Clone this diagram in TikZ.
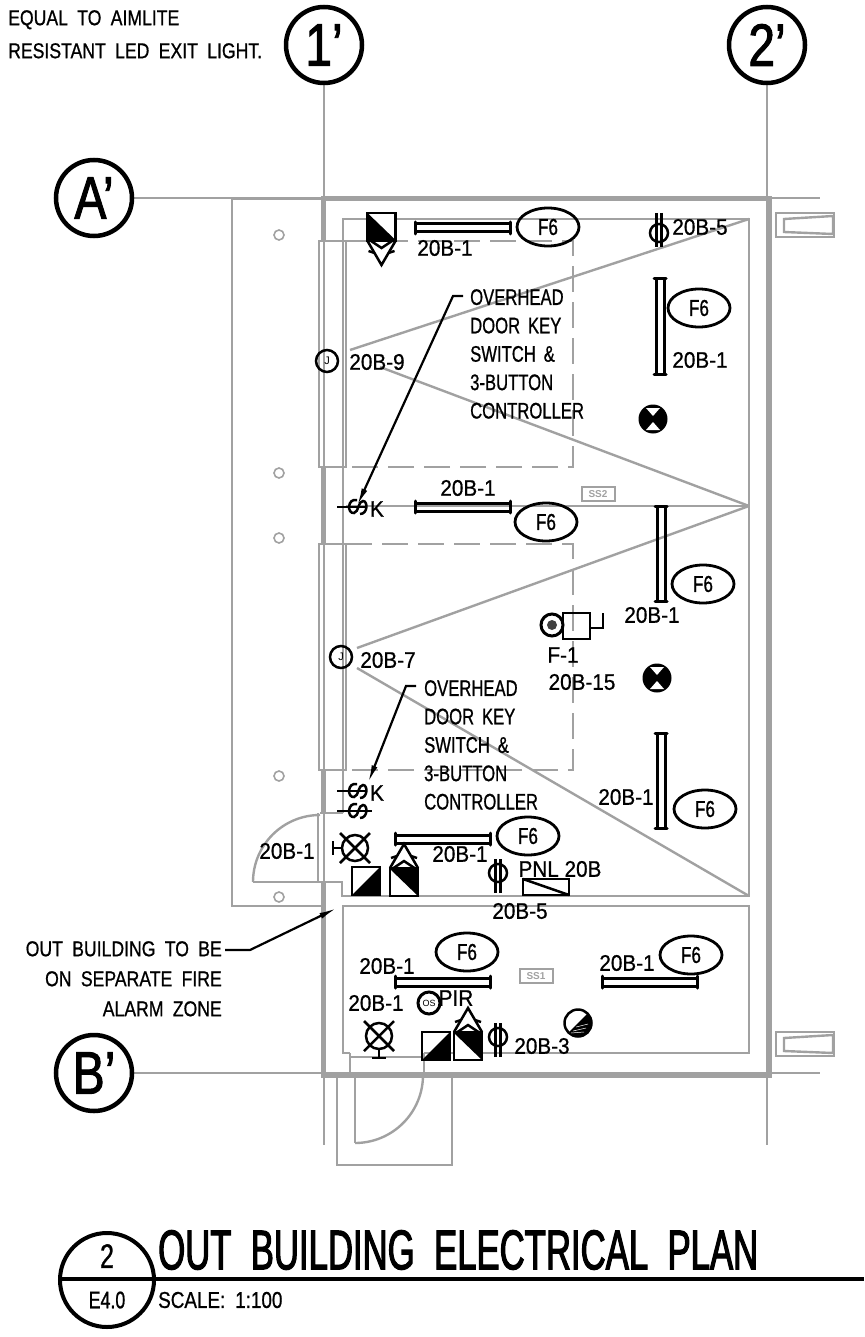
\documentclass[tikz,border=0pt]{standalone}
\usepackage{fontspec}
\usetikzlibrary{arrows.meta,shapes.geometric}
\setmainfont{Liberation Sans}
\newfontfamily\cktfont[FakeStretch=0.92,FakeBold=0.8]{Liberation Sans}
\newfontfamily\notefont[FakeStretch=0.74,FakeBold=0.8,WordSpace=1.7]{Liberation Sans}
\newfontfamily\widefont[FakeStretch=0.82,FakeBold=0.8,WordSpace=1.9]{Liberation Sans}
\newfontfamily\titlefont[FakeStretch=0.62,FakeBold=1.9,WordSpace=2.0]{Liberation Sans}
\newfontfamily\bubblefont[FakeStretch=0.8,FakeBold=1.6]{Liberation Sans}
\definecolor{wallgray}{gray}{0.63}
\tikzset{
    wall/.style={wallgray, line width=5pt},
    partition/.style={wallgray, line width=2.4pt},
    gridline/.style={wallgray, line width=1.6pt},
    symb/.style={black, line width=2.5pt},
    leader/.style={black, line width=2.2pt, -{Latex[length=18pt,width=6pt]}},
    ckt/.style={font=\cktfont\fontsize{22.5}{22.5}\selectfont, inner sep=0pt},
    note/.style={font=\notefont\fontsize{22.5}{28.4}\selectfont, inner sep=0pt},
    tag/.style={draw, ellipse, line width=2.8pt, minimum width=62pt, minimum height=38pt, inner sep=0pt, font=\notefont\fontsize{23}{23}\selectfont},
    bubble/.style={draw, circle, line width=4.5pt, minimum size=76pt, inner sep=0pt, font=\bubblefont\fontsize{60}{60}\selectfont},
    bolt/.style={wallgray, line width=1.6pt},
    pics/lamp/.style={code={
        \draw[line width=3pt] (0,-4) -- (95,-4) (0,4) -- (95,4);
        \draw[line width=3pt, line cap=round] (0,-6) -- (0,6) (95,-6) -- (95,6);
    }},
    pics/exitbox/.style={code={
        \draw[symb, fill=white] (-14,-14) rectangle (14,14);
        \fill (-14,-14) -- (14,13) -- (-14,13) -- cycle;
        \draw[symb] (-14,14) -- (0,38) -- (14,14);
        \draw[symb] (-12,13) -- (0,21) -- (12,13);
        \draw[symb] (-13,24) -- (-7,26) (13,24) -- (7,26);
    }},
    pics/halfbox/.style={code={
        \draw[symb] (-14,-14) rectangle (14,14);
        \fill (-14,14) -- (14,-14) -- (14,14) -- cycle;
    }},
    pics/recep/.style={code={
        \draw[symb] (0,0) circle (9);
        \draw[symb] (-2.5,-20) -- (-2.5,14) (2.5,-20) -- (2.5,14);
    }},
    pics/keysw/.style={code={
        \draw[symb] (0,-7) .. controls (-10,-9) and (-10,7) .. (-3,6) .. controls (2,5) and (1,-6) .. (6,-6) .. controls (11,-6) and (11,7) .. (3,7);
    }},
    pics/darklight/.style={code={
        \fill (0,0) circle (14.5);
        \fill[white] (0,-3) -- (-7,-11) -- (7,-11) -- cycle;
        \fill[white] (0,3) -- (-7,11) -- (7,11) -- cycle;
    }},
    pics/halflight/.style={code={
        \draw[symb] (0,0) circle (13.5);
        \begin{scope}
            \clip (0,0) circle (13.5);
            \fill (-15,15) -- (15,-15) -- (15,15) -- cycle;
        \end{scope}
        \draw[white, line width=0.5pt] (-5,8) -- (8,5) (-2,4) -- (10,1) (-7,10) -- (6,9);
    }},
    pics/crosslight/.style={code={
        \draw[symb] (0,0) circle (13);
        \draw[symb] (-15,-15) -- (15,15) (-15,15) -- (15,-15);
        \draw[symb] (-13,0) -- (-22,0) (-22,-7) -- (-22,7);
    }},
}
\begin{document}
\begin{tikzpicture}[x=1pt,y=-1pt]
    \useasboundingbox (0,0) rectangle (864,1337);
    % Grid lines
    \draw[gridline] (324,82) -- (324,1145);
    \draw[gridline] (767,82) -- (767,1145);
    \draw[gridline] (132,198) -- (820,198);
    \draw[gridline] (132,1073) -- (820,1073);
    % Outer walls
    \draw[wall] (323,241) -- (323,199) -- (769,199) -- (769,1075) -- (323,1075) -- (323,882);
    \draw[wall] (323,467) -- (323,544);
    \draw[wall] (323,770) -- (323,813);
    % Annex outline
    \draw[partition] (323,199) -- (232,199) -- (232,906) -- (323,906);
    % Annex bolts
    \draw[bolt] (279,235) circle (5);
    \draw[bolt] (279,473) circle (5);
    \draw[bolt] (279,538) circle (5);
    \draw[bolt] (279,776) circle (5);
    \draw[bolt] (279,897) circle (5);
    % Upper room
    \draw[partition] (343,813) -- (343,219) -- (749,219) -- (749,896) -- (342,896) -- (342,882) -- (253,882);
    \draw[partition] (320,813) -- (343,813);
    \draw[partition] (318,813) -- (318,882);
    \draw[partition] (253,882) arc[start angle=180, end angle=270, radius=67];
    % Lower room
    \draw[partition] (350,1053) -- (343,1053) -- (343,906) -- (749,906) -- (749,1053) -- (424,1053);
    \draw[partition] (350,1057) -- (424,1057);
    \draw[partition] (350,1053) -- (350,1075);
    \draw[partition] (424,1053) -- (424,1075);
    % Overhead doors
    \draw[partition] (319,241) rectangle (346,467);
    \draw[partition] (319,544) rectangle (346,770);
    \draw[partition, dash pattern=on 26pt off 10pt] (346,241) -- (573,241) -- (573,467) -- (346,467);
    \draw[partition, dash pattern=on 26pt off 10pt] (346,544) -- (573,544) -- (573,770) -- (346,770);
    % Man door
    \draw[partition] (337,1075) -- (337,1165) -- (452,1165) -- (452,1075);
    \draw[partition] (355,1075) -- (355,1143);
    \draw[partition] (355,1143) arc[start angle=90, end angle=0, radius=68];
    % Wiring runs
    \draw[partition] (350,350) -- (749,219);
    \draw[partition] (380,367) -- (749,506);
    \draw[partition] (346,506) -- (749,506);
    \draw[partition] (357,648) -- (749,506);
    \draw[partition] (357,668) -- (749,896);
    % Wall boxes on the right
    \draw[partition] (776,213) rectangle (834,237);
    \draw[partition] (784,219) -- (833,216) -- (833,234) -- (784,232) -- cycle;
    \draw[partition] (776,1032) rectangle (834,1056);
    \draw[partition] (784,1038) -- (833,1035) -- (833,1053) -- (784,1051) -- cycle;
    % Zone marks
    \node[draw=wallgray, line width=2pt, minimum width=33pt, minimum height=14pt, inner sep=0pt, text=wallgray, font=\bfseries\fontsize{10}{10}\selectfont] (zoneTwo) at (598,494) {SS2};
    \node[draw=wallgray, line width=2pt, minimum width=33pt, minimum height=14pt, inner sep=0pt, text=wallgray, font=\bfseries\fontsize{10}{10}\selectfont] (zoneOne) at (536,976) {SS1};
    % Grid bubbles
    \node[bubble] (gridOne) at (324,45) {1’};
    \node[bubble] (gridTwo) at (767,45) {2’};
    \node[bubble] (gridA) at (94,198) {A’};
    \node[bubble] (gridB) at (94,1073) {B’};
    % Light fixtures
    \pic at (415,228) {lamp};
    \pic[rotate=90] at (660,374) {lamp};
    \pic at (415,507) {lamp};
    \pic[rotate=90] at (661,601) {lamp};
    \pic[rotate=90] at (661,828) {lamp};
    \pic at (395,839) {lamp};
    \pic at (395,982) {lamp};
    \pic at (602,982) {lamp};
    % Exit signs and emergency lights
    \pic at (381.5,227) {exitbox};
    \pic[rotate=180] at (404,882) {exitbox};
    \pic[rotate=180] at (468,1046) {exitbox};
    \pic at (366,881) {halfbox};
    \pic at (436,1046) {halfbox};
    \pic at (355,848) {crosslight};
    \pic[rotate=90] at (379,1036) {crosslight};
    \pic at (653,419) {darklight};
    \pic at (657,678) {darklight};
    \pic at (578,1023) {halflight};
    % Receptacles
    \pic at (659,233) {recep};
    \pic[rotate=180] at (498,873) {recep};
    \pic[rotate=180] at (498,1037) {recep};
    % Key switches
    \draw[symb] (337,507) -- (367,507);
    \pic at (357,507) {keysw};
    \draw[symb] (337,791) -- (367,791);
    \pic at (357,791) {keysw};
    \draw[symb] (337,811) -- (372,811);
    \pic at (357,811) {keysw};
    \node[ckt] (keyA) at (377,509) {K};
    \node[ckt] (keyB) at (377,793) {K};
    % Junction boxes
    \node[draw, circle, symb, minimum size=22pt, inner sep=0pt, font=\fontsize{11}{11}\selectfont] (jboxA) at (327,361) {J};
    \node[draw, circle, symb, minimum size=22pt, inner sep=0pt, font=\fontsize{11}{11}\selectfont] (jboxB) at (341,657) {J};
    % Fan with its motor
    \node[draw, circle, line width=3pt, minimum size=22pt, inner sep=0pt] (fanRing) at (552,625) {};
    \fill[black!75] (fanRing.center) circle (5);
    \draw[symb] (563,613) rectangle (590,639);
    \draw[symb] (590,628) -- (603,628) -- (603,613);
    % Panel
    \draw[symb] (523,879) rectangle (569,895);
    \draw[symb] (523,879) -- (569,895);
    % Motion sensor
    \node[draw, circle, line width=3pt, minimum size=22pt, inner sep=0pt, font=\fontsize{9}{9}\selectfont] (sensor) at (429,1003) {OS};
    % Fixture tags
    \node[tag] (tagA) at (548,227) {F6};
    \node[tag] (tagB) at (699,308) {F6};
    \node[tag] (tagC) at (546,522) {F6};
    \node[tag] (tagD) at (703,584) {F6};
    \node[tag] (tagE) at (705,809) {F6};
    \node[tag] (tagF) at (528,836) {F6};
    \node[tag] (tagG) at (467,952) {F6};
    \node[tag] (tagH) at (691,955) {F6};
    % Circuit labels
    \node[ckt] (cktA) at (445,248) {20B-1};
    \node[ckt] (cktB) at (377,362) {20B-9};
    \node[ckt] (cktC) at (700,360) {20B-1};
    \node[ckt] (cktD) at (700,227) {20B-5};
    \node[ckt] (cktE) at (468,488) {20B-1};
    \node[ckt] (cktF) at (388,660) {20B-7};
    \node[ckt] (fanName) at (563,655) {F-1};
    \node[ckt] (cktG) at (582,682) {20B-15};
    \node[ckt] (cktH) at (652,615) {20B-1};
    \node[ckt] (cktI) at (626,797) {20B-1};
    \node[ckt] (cktJ) at (287,851) {20B-1};
    \node[ckt] (cktK) at (460,854) {20B-1};
    \node[ckt] (panelName) at (560,869) {PNL 20B};
    \node[ckt] (cktL) at (520,911) {20B-5};
    \node[ckt] (cktM) at (387,966) {20B-1};
    \node[ckt] (cktN) at (627,963) {20B-1};
    \node[ckt] (cktO) at (376,1003) {20B-1};
    \node[ckt] (pirName) at (456,998) {PIR};
    \node[ckt] (cktP) at (542,1046) {20B-3};
    % Notes
    \node[note, anchor=north west, align=left] (noteA) at (470,289) {OVERHEAD\\DOOR KEY\\SWITCH \&\\3-BUTTON\\CONTROLLER};
    \node[note, anchor=north west, align=left] (noteB) at (424,680) {OVERHEAD\\DOOR KEY\\SWITCH \&\\3-BUTTON\\CONTROLLER};
    \node[note, anchor=north east, align=right, font=\widefont\fontsize{21.5}{30}\selectfont] (noteC) at (222,941) {OUT BUILDING TO BE\\ON SEPARATE FIRE\\ALARM ZONE};
    \node[note, anchor=north west, align=left, font=\widefont\fontsize{21.5}{33}\selectfont] (noteD) at (8,10) {EQUAL TO AIMLITE\\RESISTANT LED EXIT LIGHT.};
    % Leaders
    \coordinate (noteAend) at (463,296);
    \coordinate (noteBend) at (416,686);
    \coordinate (noteCend) at (225,950);
    \coordinate (switchA) at (357,506);
    \coordinate (switchB) at (368,783);
    \coordinate (wallC) at (337,908);
    \draw[leader] (noteAend) -- ++(-10,0) -- (switchA);
    \draw[leader] (noteBend) -- ++(-10,0) -- (switchB);
    \draw[leader] (noteCend) -- ++(25,0) -- (wallC);
    % Title block
    \draw[line width=4pt] (60,1279) -- (864,1279);
    \draw[line width=4pt] (107,1280) circle (47);
    \node[inner sep=0pt, font=\notefont\fontsize{34}{34}\selectfont] (viewNum) at (107,1256) {2};
    \node[inner sep=0pt, font=\notefont\fontsize{24}{24}\selectfont] (sheetNum) at (107,1300) {E4.0};
    \node[anchor=west, inner sep=0pt, font=\titlefont\fontsize{56}{56}\selectfont] (title) at (158,1250) {OUT BUILDING ELECTRICAL PLAN};
    \node[anchor=west, inner sep=0pt, font=\widefont\fontsize{23}{23}\selectfont] (scale) at (158,1300) {SCALE: 1:100};
\end{tikzpicture}
\end{document}
